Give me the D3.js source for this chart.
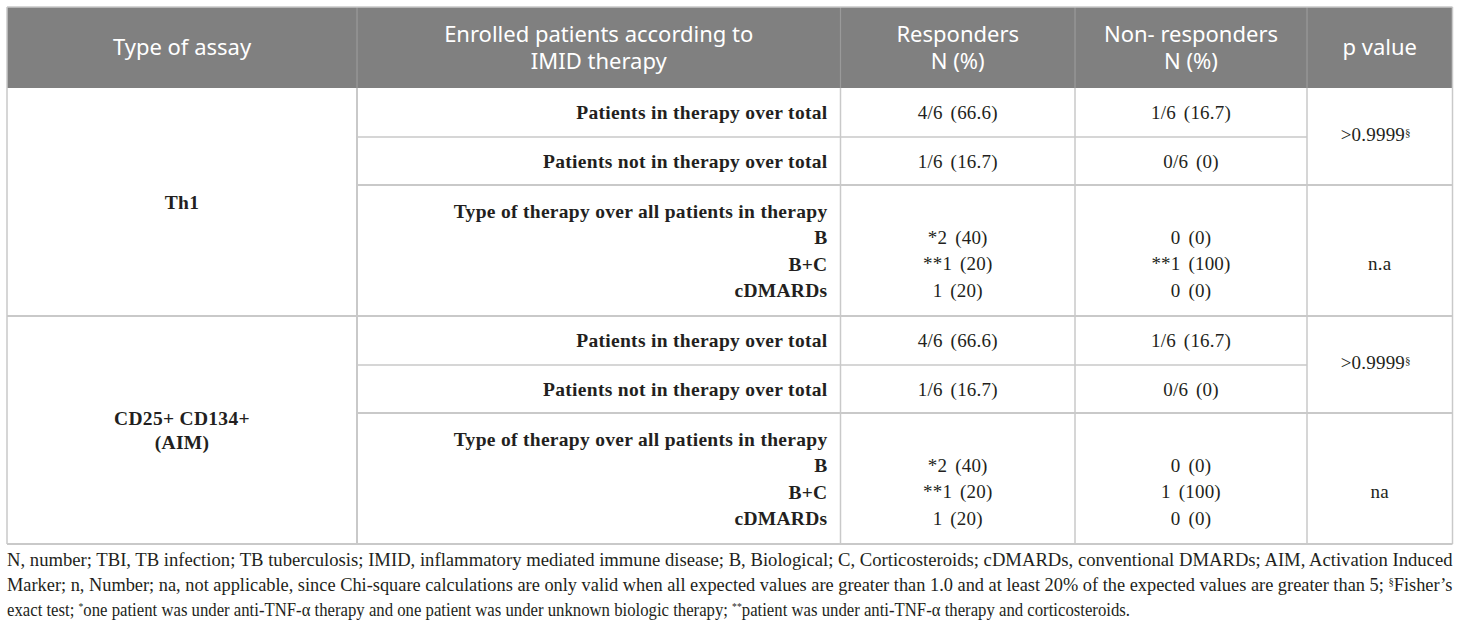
<!DOCTYPE html>
<html>
<head>
<meta charset="utf-8">
<script src="https://cdn.jsdelivr.net/npm/d3@7"></script>
<style>
  body { margin: 0; background: #fff; }
  svg { display: block; }
</style>
</head>
<body>
<div id="chart"></div>
<script>
// table content
var headers = [["Type of assay"], ["Enrolled patients according to", "IMID therapy"], ["Responders", "N (%)"], ["Non- responders", "N (%)"], ["p value"]];
var assays = [["Th1"], ["CD25+ CD134+", "(AIM)"]];
var rowLabels = ["Patients in therapy over total", "Patients not in therapy over total"];
var therapyTitle = "Type of therapy over all patients in therapy";
var therapyTypes = ["B", "B+C", "cDMARDs"];
var responders = [["4/6 (66.6)", "1/6 (16.7)"], ["4/6 (66.6)", "1/6 (16.7)"]];
var nonResponders = [["1/6 (16.7)", "0/6 (0)"], ["1/6 (16.7)", "0/6 (0)"]];
var respTherapy = [["*2 (40)", "**1 (20)", "1 (20)"], ["*2 (40)", "**1 (20)", "1 (20)"]];
var nonRespTherapy = [["0 (0)", "**1 (100)", "0 (0)"], ["0 (0)", "1 (100)", "0 (0)"]];
var pOverall = [">0.9999", ">0.9999"];
var pTherapy = ["n.a", "na"];
var footnotes = [
  [["N, number; TBI, TB infection; TB tuberculosis; IMID, inflammatory mediated immune disease; B, Biological; C, Corticosteroids; cDMARDs, conventional DMARDs; AIM, Activation Induced", 0]],
  [["Marker; n, Number; na, not applicable, since Chi-square calculations are only valid when all expected values are greater than 1.0 and at least 20% of the expected values are greater than 5; ", 0], ["§", 1], ["Fisher\u2019s", 0]],
  [["exact test; ", 0], ["*", 1], ["one patient was under anti-TNF-\u03b1 therapy and one patient was under unknown biologic therapy; ", 0], ["**", 1], ["patient was under anti-TNF-\u03b1 therapy and corticosteroids.", 0]]
];

var width = 1460, height = 631;
var serif = "'Liberation Serif', 'DejaVu Serif', serif";
var sans = "'Noto Sans', 'Open Sans', sans-serif";
var gridColor = "#c9c9c9";

// column edges
var colEdges = [7, 357, 840.5, 1075, 1307, 1452.5];
var x = d3.scaleOrdinal().domain(d3.range(6)).range(colEdges);
function colMid(i) { return (x(i) + x(i + 1)) / 2; }

// vertical layout: header, then each assay group = 2 rows + therapy block
var tableTop = 7, headH = 81, rowH = [49, 48, 131];
var groupH = d3.sum(rowH);
var y = d3.scaleLinear().domain([0, assays.length]).range([tableTop + headH, tableTop + headH + assays.length * groupH]);

var svg = d3.select("#chart").append("svg")
    .attr("width", width)
    .attr("height", height);

// header
svg.append("rect")
    .attr("x", x(0)).attr("y", tableTop)
    .attr("width", x(5) - x(0)).attr("height", headH)
    .style("fill", "#808080");

headers.forEach(function(lines, i) {
  var cy = tableTop + headH / 2;
  var lh = 27;
  lines.forEach(function(t, j) {
    svg.append("text")
        .attr("x", colMid(i))
        .attr("y", cy + (j - (lines.length - 1) / 2) * lh)
        .attr("dy", "0.35em")
        .attr("text-anchor", "middle")
        .style("font-family", sans)
        .style("font-size", "22px")
        .style("fill", "#fff")
        .text(t);
  });
});

// header separators
for (var c = 1; c < 5; c++) {
  svg.append("line")
      .attr("x1", x(c)).attr("x2", x(c))
      .attr("y1", tableTop).attr("y2", tableTop + headH)
      .style("stroke", "#9a9a9a").style("stroke-width", 1.2);
}

function cellText(tx, ty, txt, anchor, bold) {
  return svg.append("text")
      .attr("x", tx).attr("y", ty)
      .attr("dy", "0.35em")
      .attr("text-anchor", anchor)
      .style("font-family", serif)
      .style("font-size", bold ? "19.5px" : "19px")
      .style("letter-spacing", bold ? "0.3px" : "0.2px")
      .style("word-spacing", bold ? "0px" : "3px")
      .style("font-weight", bold ? "bold" : "normal")
      .style("fill", "#231f20")
      .text(txt);
}

assays.forEach(function(lines, g) {
  var g0 = y(g);
  var r1 = g0 + rowH[0], r2 = r1 + rowH[1], g1 = y(g + 1);

  // assay name
  lines.forEach(function(t, j) {
    cellText(colMid(0), (g0 + g1) / 2 + (j - (lines.length - 1) / 2) * 24, t, "middle", true);
  });

  // two summary rows
  var rowMid = [(g0 + r1) / 2, (r1 + r2) / 2];
  rowLabels.forEach(function(lbl, r) {
    cellText(x(2) - 13, rowMid[r], lbl, "end", true);
    cellText(colMid(2), rowMid[r], responders[g][r], "middle", false);
    cellText(colMid(3), rowMid[r], nonResponders[g][r], "middle", false);
  });

  var pt = cellText(colMid(4) - 4, (g0 + r2) / 2 - 2, pOverall[g], "middle", false);
  pt.append("tspan").attr("dy", "-0.45em").style("font-size", "11px").text("§");

  // therapy block
  var bMid = (r2 + g1) / 2, lh = 26.5;
  var lineY = function(k) { return bMid + (k - 1.5) * lh; };
  cellText(x(2) - 13, lineY(0), therapyTitle, "end", true);
  therapyTypes.forEach(function(t, k) {
    cellText(x(2) - 13, lineY(k + 1), t, "end", true);
    cellText(colMid(2), lineY(k + 1), respTherapy[g][k], "middle", false);
    cellText(colMid(3), lineY(k + 1), nonRespTherapy[g][k], "middle", false);
  });
  cellText(colMid(4), lineY(2), pTherapy[g], "middle", false);

  // grid lines inside group
  svg.append("line").attr("x1", x(1)).attr("x2", x(4)).attr("y1", r1).attr("y2", r1)
      .style("stroke", gridColor).style("stroke-width", 1.5);
  svg.append("line").attr("x1", x(1)).attr("x2", x(5)).attr("y1", r2).attr("y2", r2)
      .style("stroke", gridColor).style("stroke-width", 2);
  svg.append("line").attr("x1", x(0)).attr("x2", x(5)).attr("y1", g1).attr("y2", g1)
      .style("stroke", gridColor).style("stroke-width", 2);
});

// vertical body lines
var bodyTop = y(0), bodyBot = y(assays.length);
colEdges.forEach(function(cx, i) {
  svg.append("line")
      .attr("x1", cx).attr("x2", cx)
      .attr("y1", i === 0 || i === 5 ? tableTop : bodyTop).attr("y2", bodyBot)
      .style("stroke", gridColor).style("stroke-width", i === 1 ? 2 : 1.5);
});
svg.append("line").attr("x1", x(0)).attr("x2", x(5)).attr("y1", tableTop).attr("y2", tableTop)
    .style("stroke", gridColor).style("stroke-width", 1.5);

// footnotes: first two lines justified to table width, last one condensed alike
var footY = [566, 591, 616];
var fullW = x(5) - x(0);
var lastW = 1123;
footnotes.forEach(function(segs, i) {
  var t = svg.append("text")
      .attr("x", x(0)).attr("y", footY[i])
      .attr("textLength", i < 2 ? fullW : lastW)
      .attr("lengthAdjust", "spacingAndGlyphs")
      .style("font-family", serif)
      .style("font-size", "19px")
      .style("fill", "#231f20");
  segs.forEach(function(s) {
    var sp = t.append("tspan").text(s[0]);
    if (s[1]) sp.attr("baseline-shift", "6px").style("font-size", "11px");
  });
});
</script>
</body>
</html>
